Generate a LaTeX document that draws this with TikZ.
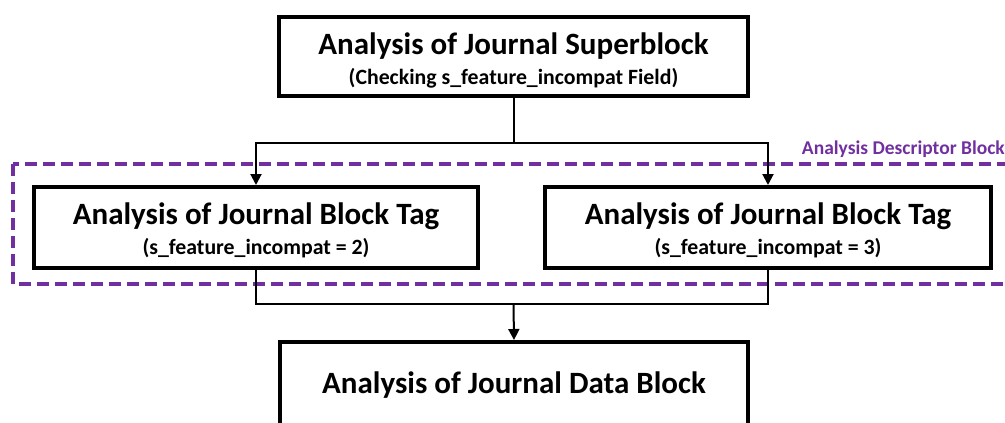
\documentclass[tikz,border=0pt]{standalone}
\usepackage{fontspec}
\setmainfont{Carlito}
\usetikzlibrary{arrows.meta}
\definecolor{descpurple}{HTML}{7030A0}
\begin{document}
\begin{tikzpicture}[x=1pt,y=-1pt,
  box/.style={draw=black, line width=4pt, fill=white, inner sep=0pt, rectangle},
  conn/.style={draw=black, line width=2pt},
  arr/.style={conn, -{Triangle[width=11pt,length=11pt]}},
  title/.style={font=\bfseries\fontsize{31}{33}\selectfont, anchor=base, inner sep=0pt},
  sub/.style={font=\bfseries\fontsize{21.8}{24}\selectfont, anchor=base, inner sep=0pt},
  grp/.style={draw=descpurple, line width=3.5pt, dash pattern=on 12pt off 6pt},
  grplabel/.style={text=descpurple, font=\bfseries\fontsize{19.5}{21}\selectfont, anchor=base east, inner sep=0pt}
]
\useasboundingbox (0,0) rectangle (1005,423);
\clip (0,0) rectangle (1005,423);
% group frame
\draw[grp] (13,164) rectangle (1030,284);
\node[grplabel] (glab) at (1005,154) {Analysis Descriptor Block};
% boxes
\node[box, minimum width=469pt, minimum height=79pt] (sb) at (513.5,56.5) {};
\node[box, minimum width=444pt, minimum height=81pt] (lb) at (256,227.5) {};
\node[box, minimum width=446pt, minimum height=81pt] (rb) at (768,227.5) {};
\node[box, minimum width=468pt, minimum height=140pt] (db) at (514,412) {};
% texts
\node[title] (sbt) at (513.5,54) {Analysis of Journal Superblock};
\node[sub] (sbs) at (513.5,84) {(Checking s\_feature\_incompat Field)};
\node[title] (lbt) at (256,224) {Analysis of Journal Block Tag};
\node[sub] (lbs) at (256,254) {(s\_feature\_incompat = 2)};
\node[title] (rbt) at (768,224) {Analysis of Journal Block Tag};
\node[sub] (rbs) at (768,254) {(s\_feature\_incompat = 3)};
\node[title] (dbt) at (514,393) {Analysis of Journal Data Block};
% connectors
\coordinate (j1) at (513.5,143);
\coordinate (j2) at (513.5,304);
\draw[conn] (sb.south) -- (j1);
\draw[arr] (j1) -| (lb.north);
\draw[arr] (j1) -| (rb.north);
\draw[conn] (lb.south) |- (j2) -| (rb.south);
\draw[arr] (j2) -- (db.north);
\end{tikzpicture}
\end{document}
